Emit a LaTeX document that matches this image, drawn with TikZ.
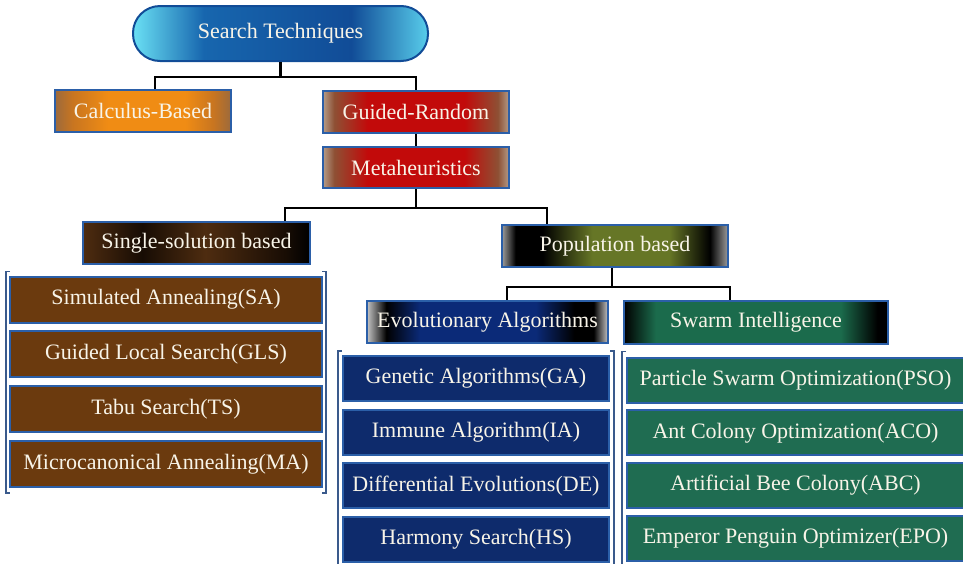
\documentclass[tikz,border=0pt]{standalone}
\usepackage{fontspec}
\setmainfont{Liberation Serif}
\usetikzlibrary{calc, shadings}
\definecolor{boxline}{HTML}{2B5FA8}
\definecolor{boxtext}{HTML}{F8F4E8}
\definecolor{brakline}{HTML}{3A5A8C}
\definecolor{stcyan}{HTML}{6AE0F4}
\definecolor{stcyanb}{HTML}{58CDEB}
\definecolor{stblue}{HTML}{1766AE}
\definecolor{stdeep}{HTML}{114C97}
\definecolor{cbtan}{HTML}{9C6A3C}
\definecolor{cbmid}{HTML}{C87520}
\definecolor{cborange}{HTML}{F08C14}
\definecolor{grtan}{HTML}{B49C88}
\definecolor{grbrown}{HTML}{8E5034}
\definecolor{grred}{HTML}{C20A0A}
\definecolor{ssbrown}{HTML}{4E2C10}
\definecolor{ssdark}{HTML}{170C04}
\definecolor{pbgrey}{HTML}{9C9C9C}
\definecolor{pbolive}{HTML}{667626}
\definecolor{eagrey}{HTML}{C4C4C4}
\definecolor{eanavy}{HTML}{0B2A78}
\definecolor{sigreen}{HTML}{1B6B4C}
\definecolor{ssfill}{HTML}{6B3A0E}
\definecolor{eafill}{HTML}{0E2B6C}
\definecolor{sifill}{HTML}{1F6C51}
% shadings for the header boxes
\pgfdeclarehorizontalshading{stshade}{100bp}{color(0bp)=(stcyan); color(25bp)=(stcyan); color(37bp)=(stblue); color(62bp)=(stdeep); color(75bp)=(stcyanb); color(100bp)=(stcyanb)}
\pgfdeclarehorizontalshading{cbshade}{100bp}{color(0bp)=(cbtan); color(25bp)=(cbtan); color(30bp)=(cbmid); color(40bp)=(cborange); color(62bp)=(cborange); color(70bp)=(cbmid); color(75bp)=(cbtan); color(100bp)=(cbtan)}
\pgfdeclarehorizontalshading{grshade}{100bp}{color(0bp)=(grtan); color(25bp)=(grtan); color(28bp)=(grbrown); color(37bp)=(grred); color(63bp)=(grred); color(72bp)=(grbrown); color(75bp)=(grtan); color(100bp)=(grtan)}
\pgfdeclarehorizontalshading{ssshade}{100bp}{color(0bp)=(ssbrown); color(25bp)=(ssbrown); color(38bp)=(ssdark); color(52bp)=(ssbrown); color(70bp)=(ssdark); color(75bp)=(black); color(100bp)=(black)}
\pgfdeclarehorizontalshading{pbshade}{100bp}{color(0bp)=(pbgrey); color(25bp)=(pbgrey); color(28bp)=(black); color(34bp)=(black); color(45bp)=(pbolive); color(62bp)=(pbolive); color(71bp)=(black); color(75bp)=(pbgrey); color(100bp)=(pbgrey)}
\pgfdeclarehorizontalshading{eashade}{100bp}{color(0bp)=(eagrey); color(25bp)=(eagrey); color(29bp)=(black); color(36bp)=(eanavy); color(60bp)=(eanavy); color(68bp)=(black); color(72bp)=(black); color(75bp)=(eagrey); color(100bp)=(eagrey)}
\pgfdeclarehorizontalshading{sishade}{100bp}{color(0bp)=(black); color(25bp)=(black); color(31bp)=(sigreen); color(66bp)=(sigreen); color(73bp)=(black); color(100bp)=(black)}
\tikzset{
box/.style={draw=boxline, line width=2pt, inner sep=0pt, text=boxtext, font=\fontsize{22}{24}\selectfont}, % every box
head/.style={box, shade, shading=#1, minimum height=42pt}, % shaded header boxes
ssitem/.style={box, fill=ssfill, minimum width=312pt, minimum height=46pt}, % single-solution list
eaitem/.style={box, fill=eafill, minimum width=266pt, minimum height=45pt}, % evolutionary list
siitem/.style={box, fill=sifill, minimum width=337pt, minimum height=45pt}, % swarm list
link/.style={line width=2.6pt, black}, % tree connectors
brak/.style={line width=1.6pt, brakline}, % list brackets
}

\begin{document}
\begin{tikzpicture}[x=1pt, y=-1pt]
\useasboundingbox (0,0) rectangle (963,563);
\clip (0,0) rectangle (963,563);
\node[box, shade, shading=stshade, rounded corners=27pt, draw=stdeep, minimum width=295pt, minimum height=55pt] (st) at (280.5,33.5) {Search Techniques};
\node[head=cbshade, minimum width=176pt] (cb) at (143,111) {Calculus-Based};
\node[head=grshade, minimum width=186pt] (gr) at (416,112) {Guided-Random};
\node[head=grshade, minimum width=186pt, minimum height=41pt] (mh) at (416,167.5) {Metaheuristics};
\node[head=ssshade, minimum width=227pt] (ss) at (196.5,243) {Single-solution based};
\node[head=pbshade, minimum width=226pt] (pb) at (615,246) {Population based};
\node[head=eashade, minimum width=241pt] (ea) at (487.5,322) {Evolutionary Algorithms};
\node[head=sishade, minimum width=264pt, minimum height=43pt] (si) at (756,322.5) {Swarm Intelligence};
% connectors
\draw[link] (st.south) -- ++(0,15) -| (cb.north -| 155,0);
\draw[link] (st.south) -- ++(0,15) -| (gr.north);
\draw[link] (gr.south) -- (mh.south |- mh.north);
\draw[link] (mh.south) -- ++(0,19) -| (ss.north -| 285,0);
\draw[link] (mh.south) -- ++(0,19) -| (pb.north -| 547,0);
\draw[link] (pb.south -| 612,0) -- ++(0,19) -| (ea.north -| 507,0);
\draw[link] (pb.south -| 612,0) -- ++(0,19) -| (si.north -| 730,0);
% lists
\foreach \nm/\txt [count=\i from 0] in {sa/Simulated Annealing(SA), gls/Guided Local Search(GLS), ts/Tabu Search(TS), ma/Microcanonical Annealing(MA)}
  \node[ssitem] (\nm) at (166,{299.5+54.8*\i}) {\txt};
\foreach \nm/\txt [count=\i from 0] in {ga/Genetic Algorithms(GA), ia/Immune Algorithm(IA), de/Differential Evolutions(DE), hs/Harmony Search(HS)}
  \node[eaitem] (\nm) at (476,{378.5+53.7*\i}) {\txt};
\foreach \nm/\txt [count=\i from 0] in {pso/Particle Swarm Optimization(PSO), aco/Ant Colony Optimization(ACO), abc/Artificial Bee Colony(ABC), epo/Emperor Penguin Optimizer(EPO)}
  \node[siitem] (\nm) at (795.5,{380+52.8*\i}) {\txt};
% brackets
\draw[brak] ($(sa.north west)+(1,-4)$) -- ($(sa.north west)+(-3,-4)$) |- ($(ma.south west)+(1,5)$);
\draw[brak] ($(sa.north east)+(-1,-4)$) -- ($(sa.north east)+(3,-4)$) |- ($(ma.south east)+(-1,5)$);
\draw[brak] ($(ga.north west)+(0,-4)$) -- ($(ga.north west)+(-4,-4)$) -- ($(hs.south west)+(-4,12)$);
\draw[brak] ($(ga.north east)+(0,-4)$) -- ($(ga.north east)+(4,-4)$) -- ($(hs.south east)+(4,12)$);
\draw[brak] ($(pso.north west)+(0,-5)$) -- ($(pso.north west)+(-4,-5)$) -- ($(epo.south west)+(-4,12)$);
\end{tikzpicture}
\end{document}
